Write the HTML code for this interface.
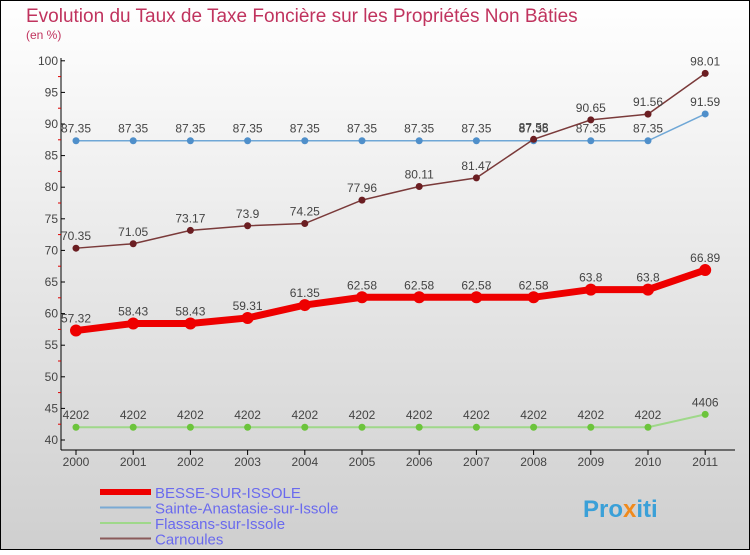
<!DOCTYPE html>
<html><head><meta charset="utf-8"><style>
body{margin:0}
#c{width:750px;height:550px;position:relative;font-family:"Liberation Sans",sans-serif}
</style></head><body>
<div id="c">
<svg id="s" width="750" height="550" xmlns="http://www.w3.org/2000/svg">
<defs><linearGradient id="bg" x1="0" y1="0" x2="0" y2="1"><stop offset="0" stop-color="#ffffff"/><stop offset="1" stop-color="#cfcfcf"/></linearGradient></defs>
<rect x="0.5" y="0.5" width="749" height="549" fill="url(#bg)" stroke="#000"/>
<text x="26" y="22" font-size="19" fill="#c0335e">Evolution du Taux de Taxe Foncière sur les Propriétés Non Bâties</text>
<text x="26" y="39" font-size="12" fill="#c0335e">(en %)</text>
<g id="axes"></g><g id="series"></g><g id="legend"></g>
<text x="583" y="517" font-size="24" font-weight="bold" fill="#3aa0d8">Pro<tspan fill="#f08a1c">x</tspan>iti</text>
</svg></div>
<script>
const years=[2000,2001,2002,2003,2004,2005,2006,2007,2008,2009,2010,2011];
const yTicks=[40,45,50,55,60,65,70,75,80,85,90,95,100];
const besse=[57.32,58.43,58.43,59.31,61.35,62.58,62.58,62.58,62.58,63.8,63.8,66.89];
const sainte=[87.35,87.35,87.35,87.35,87.35,87.35,87.35,87.35,87.35,87.35,87.35,91.59];
const flassans=[42.02,42.02,42.02,42.02,42.02,42.02,42.02,42.02,42.02,42.02,42.02,44.06];
const carnoules=[70.35,71.05,73.17,73.9,74.25,77.96,80.11,81.47,87.58,90.65,91.56,98.01];
const labB=["57.32","58.43","58.43","59.31","61.35","62.58","62.58","62.58","62.58","63.8","63.8","66.89"];
const labS=["87.35","87.35","87.35","87.35","87.35","87.35","87.35","87.35","87.35","87.35","87.35","91.59"];
const labF=["4202","4202","4202","4202","4202","4202","4202","4202","4202","4202","4202","4406"];
const labC=["70.35","71.05","73.17","73.9","74.25","77.96","80.11","81.47","87.58","90.65","91.56","98.01"];
const NS="http://www.w3.org/2000/svg";
const X=i=>76+i*57.2, Y=v=>440-(v-40)*6.32;
function mk(t,a,p){const e=document.createElementNS(NS,t);for(const k in a)e.setAttribute(k,a[k]);p.appendChild(e);return e;}
const ax=document.getElementById('axes');
let e=mk('line',{x1:61,y1:58,x2:61,y2:450,stroke:'#000'},ax);


e=mk('line',{x1:61,y1:450,x2:735,y2:450,stroke:'#000'},ax);


yTicks.forEach((v,i)=>{
 mk('line',{x1:61,y1:Y(v),x2:65,y2:Y(v),stroke:'#000'},ax);
 if(i<yTicks.length-1)mk('line',{x1:58,y1:Y(v+2.5),x2:61,y2:Y(v+2.5),stroke:'#d00'},ax);
 const t=mk('text',{x:58,y:Y(v)+4,'font-size':12,fill:'#444','text-anchor':'end'},ax);t.textContent=v;
 
 
});
years.forEach((y,i)=>{
 mk('line',{x1:X(i),y1:450,x2:X(i),y2:455,stroke:'#000'},ax);
 const t=mk('text',{x:X(i),y:466,'font-size':12,fill:'#444','text-anchor':'middle'},ax);t.textContent=y;
 
 
});
const sg=document.getElementById('series');
function series(vals,labs,color,w,dot,r,name,fs){
 const g=mk('g',{},sg);
 
 
 mk('polyline',{points:vals.map((v,i)=>X(i)+','+Y(v)).join(' '),fill:'none',stroke:color,'stroke-width':w},g);
 vals.forEach((v,i)=>{
  const c=mk('circle',{cx:X(i),cy:Y(v),r:r,fill:dot},g);
  
  
  const t=mk('text',{x:X(i),y:Y(v)-8,'font-size':12,fill:'#444','text-anchor':'middle'},g);t.textContent=labs[i];
  
  
 });
}
series(sainte,labS,'#6fa7d6',1.5,'#4f8fca',3.5,'sainte-anastasie-series');
series(flassans,labF,'#9fd88a',2,'#6cc43c',3.5,'flassans-series');
series(carnoules,labC,'#7a3a3a',1.5,'#6b1e22',3.5,'carnoules-series');
series(besse,labB,'#ee0000',7,'#ee0000',6,'besse-series');
const lg=document.getElementById('legend');
const leg=[['BESSE-SUR-ISSOLE','#ee0000',6],['Sainte-Anastasie-sur-Issole','#7aaad4',2],['Flassans-sur-Issole','#9fd88a',2],['Carnoules','#8a5a5a',2]];
leg.forEach((l,i)=>{
 const y=492+i*15.5;
 const ln=mk('line',{x1:100,y1:y,x2:151,y2:y,stroke:l[1],'stroke-width':l[2]},lg);
 
 
 const t=mk('text',{x:155,y:y+6,'font-size':15,fill:'#6a6aee'},lg);t.textContent=l[0];
 
 
});
</script>
</body></html>
